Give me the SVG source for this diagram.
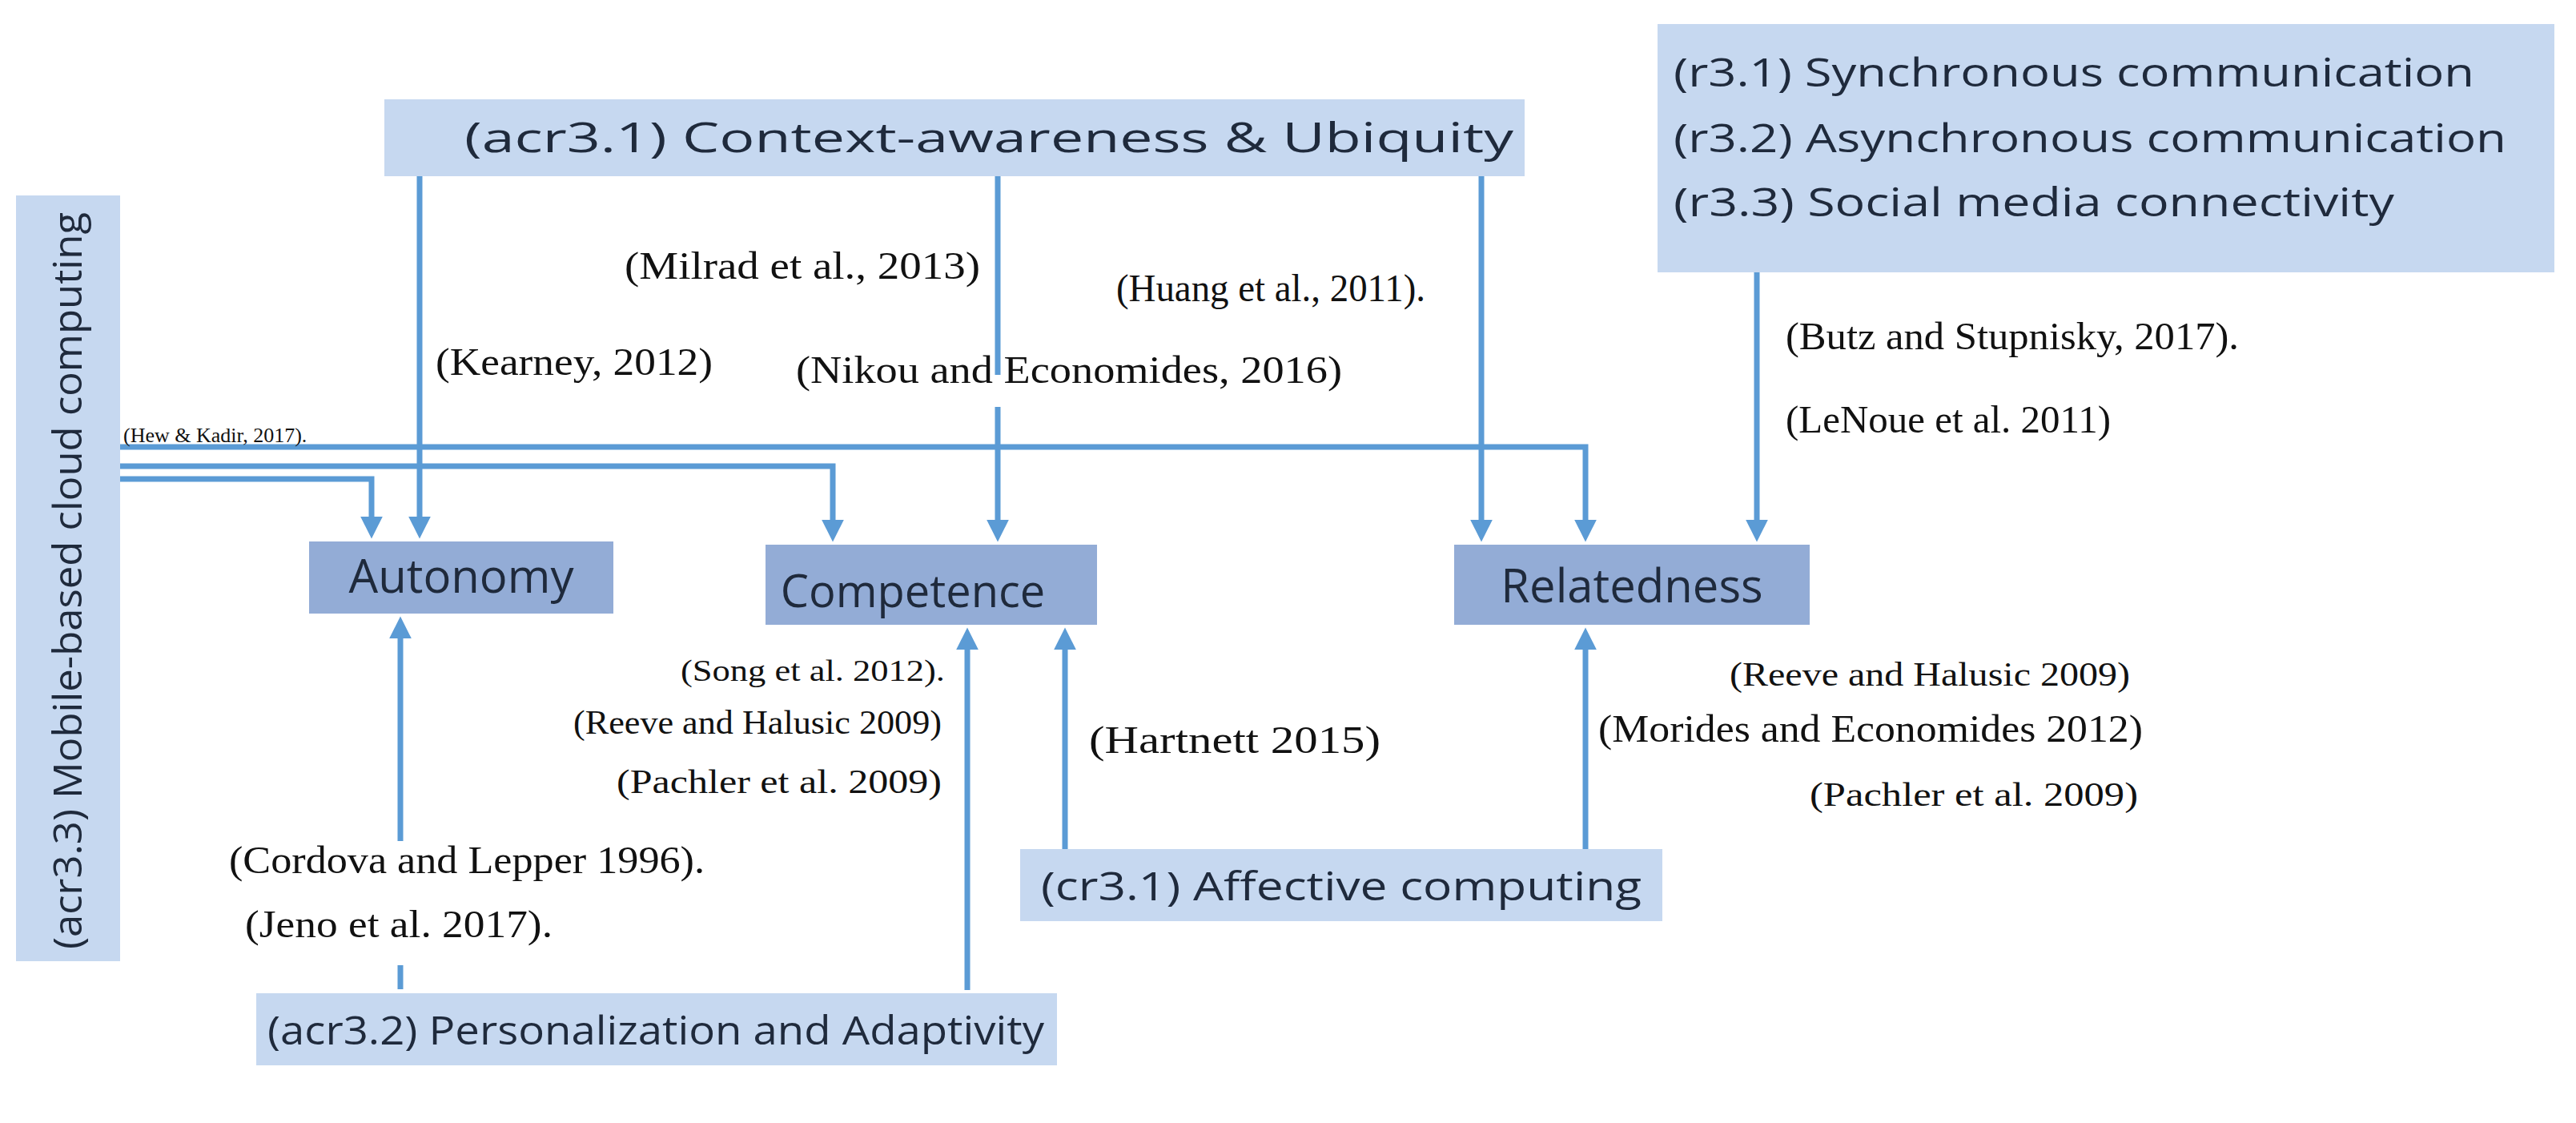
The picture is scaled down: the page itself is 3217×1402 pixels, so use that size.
<svg xmlns="http://www.w3.org/2000/svg" width="3217" height="1402" viewBox="0 0 3217 1402">
<style>
.lb{fill:#c6d8f0}
.db{fill:#93acd6}
.ns{font-family:"Open Sans","Liberation Sans",sans-serif;fill:#1f2a3c}
.cit{font-family:"Liberation Serif",serif;fill:#111;font-size:48px}
.ln{stroke:#5b9bd5;stroke-width:7;fill:none}
</style>
<defs>
<marker id="ah" markerWidth="4" markerHeight="4" refX="2.2" refY="2" orient="auto" markerUnits="strokeWidth"><path d="M0,0 L4,2 L0,4 z" fill="#5b9bd5"/></marker>
</defs>
<rect width="3217" height="1402" fill="#fff"/>
<g id="context"><rect class="lb" x="480" y="124" width="1424" height="96"/><text class="ns" x="580" y="190" font-size="52" textLength="1310" lengthAdjust="spacingAndGlyphs">(acr3.1) Context-awareness &amp; Ubiquity</text></g>
<g id="mobile"><rect class="lb" x="20" y="244" width="130" height="956"/><text class="ns" transform="translate(102,1185) rotate(-90)" font-size="50" textLength="920" lengthAdjust="spacingAndGlyphs">(acr3.3) Mobile-based cloud computing</text></g>
<g id="r3"><rect class="lb" x="2070" y="30" width="1120" height="310"/>
<text class="ns" x="2090" y="108" font-size="50" textLength="1000" lengthAdjust="spacingAndGlyphs">(r3.1) Synchronous communication</text>
<text class="ns" x="2090" y="190" font-size="50" textLength="1040" lengthAdjust="spacingAndGlyphs">(r3.2) Asynchronous communication</text>
<text class="ns" x="2090" y="270" font-size="50" textLength="900" lengthAdjust="spacingAndGlyphs">(r3.3) Social media connectivity</text></g>
<g id="autonomy"><rect class="db" x="386" y="676" width="380" height="90"/><text class="ns" x="576" y="740" font-size="58" text-anchor="middle">Autonomy</text></g>
<g id="competence"><rect class="db" x="956" y="680" width="414" height="100"/><text class="ns" x="1140" y="758" font-size="56" text-anchor="middle">Competence</text></g>
<g id="relatedness"><rect class="db" x="1816" y="680" width="444" height="100"/><text class="ns" x="2038" y="752" font-size="58" text-anchor="middle">Relatedness</text></g>
<g id="affective"><rect class="lb" x="1274" y="1060" width="802" height="90"/><text class="ns" x="1300" y="1124" font-size="50" textLength="750" lengthAdjust="spacingAndGlyphs">(cr3.1) Affective computing</text></g>
<g id="personal"><rect class="lb" x="320" y="1240" width="1000" height="90"/><text class="ns" x="334" y="1304" font-size="50" textLength="970" lengthAdjust="spacingAndGlyphs">(acr3.2) Personalization and Adaptivity</text></g>
<g id="connectors">
<path class="ln" d="M524,220 V660" marker-end="url(#ah)"/>
<path class="ln" d="M1246,220 V468"/><path class="ln" d="M1246,508 V664" marker-end="url(#ah)"/>
<path class="ln" d="M1850,220 V664" marker-end="url(#ah)"/>
<path class="ln" d="M2194,340 V664" marker-end="url(#ah)"/>
<path class="ln" d="M150,558 H1980 V664" marker-end="url(#ah)"/>
<path class="ln" d="M150,582 H1040 V664" marker-end="url(#ah)"/>
<path class="ln" d="M150,598 H464 V660" marker-end="url(#ah)"/>
<path class="ln" d="M500,1050 V782" marker-end="url(#ah)"/>
<path class="ln" d="M500,1205 V1235"/>
<path class="ln" d="M1208,1236 V796" marker-end="url(#ah)"/>
<path class="ln" d="M1330,1060 V796" marker-end="url(#ah)"/>
<path class="ln" d="M1980,1060 V796" marker-end="url(#ah)"/>
</g>
<g id="citations" font-family="Liberation Serif">
<text class="cit" x="780" y="348" textLength="444" lengthAdjust="spacingAndGlyphs">(Milrad et al., 2013)</text>
<text class="cit" x="1394" y="376" textLength="386" lengthAdjust="spacingAndGlyphs">(Huang et al., 2011).</text>
<text class="cit" x="544" y="468" textLength="346" lengthAdjust="spacingAndGlyphs">(Kearney, 2012)</text>
<text class="cit" x="994" y="478" textLength="682" lengthAdjust="spacingAndGlyphs">(Nikou and Economides, 2016)</text>
<text class="cit" x="154" y="552" style="font-size:26px">(Hew &amp; Kadir, 2017).</text>
<text class="cit" x="2230" y="436" textLength="566" lengthAdjust="spacingAndGlyphs">(Butz and Stupnisky, 2017).</text>
<text class="cit" x="2230" y="540" textLength="406" lengthAdjust="spacingAndGlyphs">(LeNoue et al. 2011)</text>
<text class="cit" x="850" y="850" style="font-size:38px" textLength="330" lengthAdjust="spacingAndGlyphs">(Song et al. 2012).</text>
<text class="cit" x="716" y="916" style="font-size:42px" textLength="460" lengthAdjust="spacingAndGlyphs">(Reeve and Halusic 2009)</text>
<text class="cit" x="770" y="990" style="font-size:42px" textLength="406" lengthAdjust="spacingAndGlyphs">(Pachler et al. 2009)</text>
<text class="cit" x="1360" y="940" textLength="364" lengthAdjust="spacingAndGlyphs">(Hartnett 2015)</text>
<text class="cit" x="2160" y="856" style="font-size:42px" textLength="500" lengthAdjust="spacingAndGlyphs">(Reeve and Halusic 2009)</text>
<text class="cit" x="1996" y="926" textLength="680" lengthAdjust="spacingAndGlyphs">(Morides and Economides 2012)</text>
<text class="cit" x="2260" y="1006" style="font-size:42px" textLength="410" lengthAdjust="spacingAndGlyphs">(Pachler et al. 2009)</text>
<text class="cit" x="286" y="1090" textLength="594" lengthAdjust="spacingAndGlyphs">(Cordova and Lepper 1996).</text>
<text class="cit" x="306" y="1170" textLength="384" lengthAdjust="spacingAndGlyphs">(Jeno et al. 2017).</text>
</g>
</svg>
